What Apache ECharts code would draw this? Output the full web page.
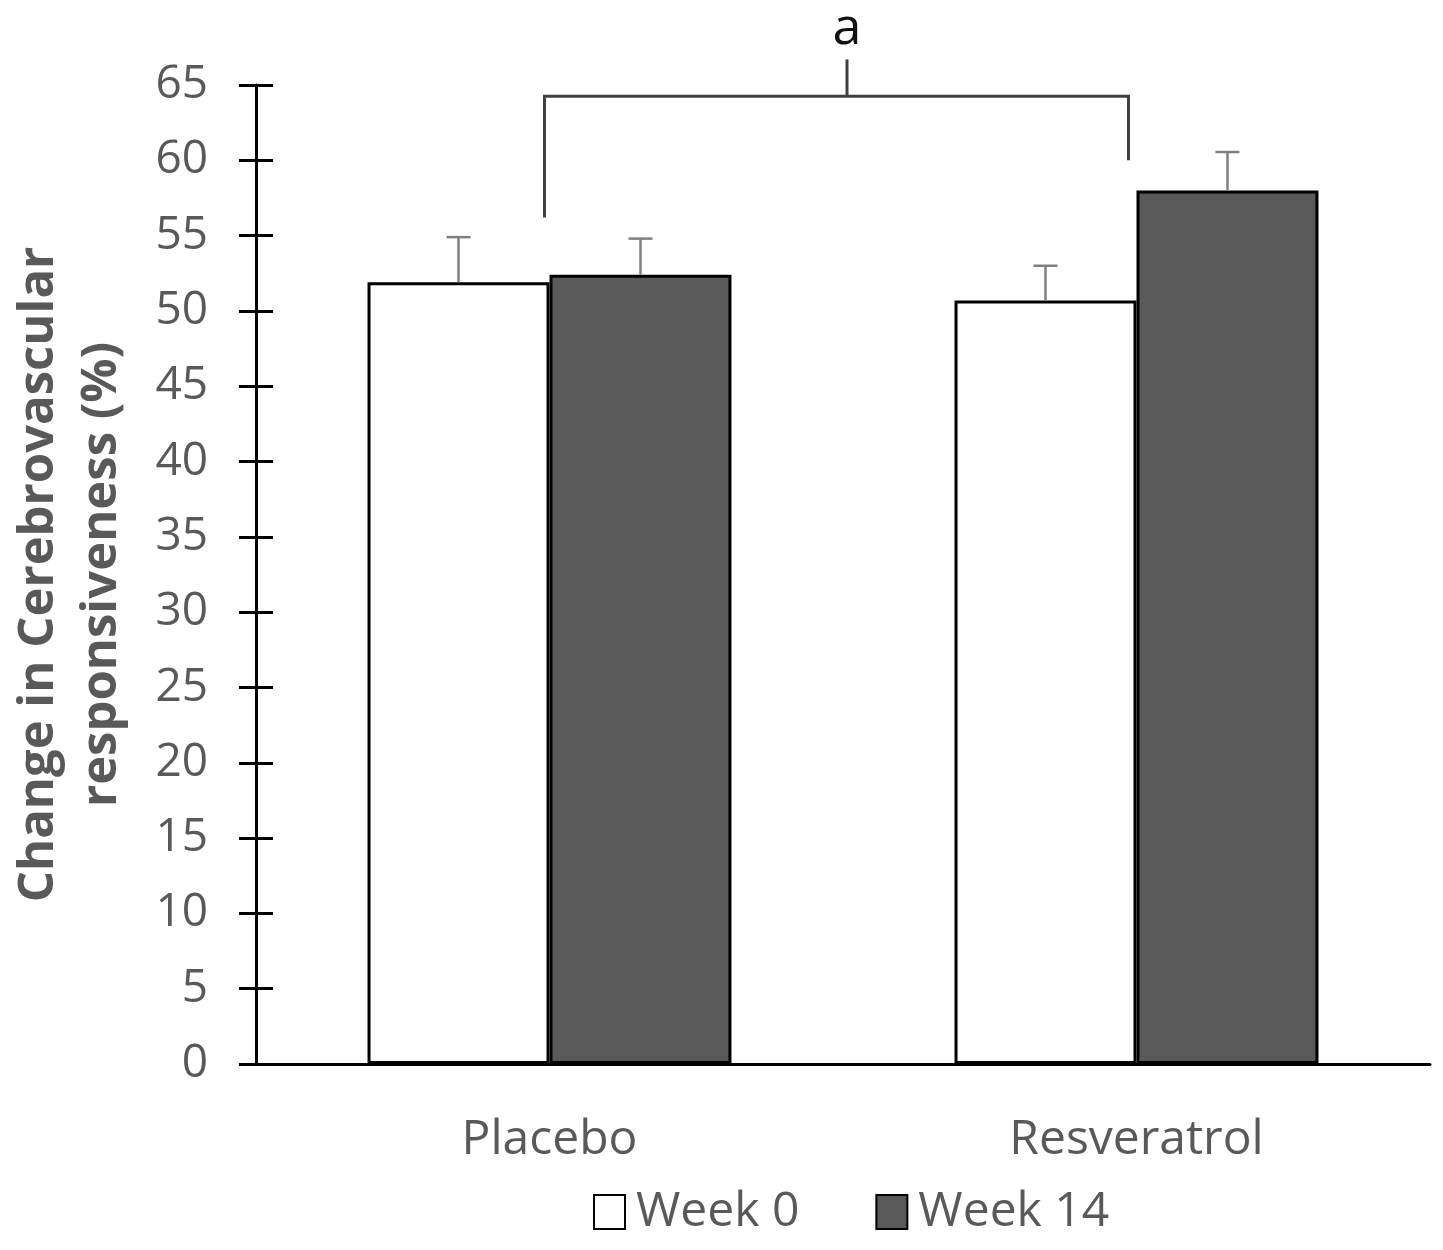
<!DOCTYPE html>
<html><head><meta charset="utf-8">
<script src="https://cdn.jsdelivr.net/npm/echarts@6/dist/echarts.min.js"></script>
<style>html,body{margin:0;padding:0;background:#fff}#c{width:1443px;height:1250px}</style>
</head><body><div id="c"></div>
<script>
const categories = ['Placebo', 'Resveratrol'];
const seriesNames = ['Week 0', 'Week 14'];
const week0 = [51.9, 50.7];
const week14 = [52.4, 58.0];
const week0Upper = [54.9, 53.0];
const week14Upper = [54.8, 60.55];
// significance bracket values (y-axis units)
const bracketLeftBottom = 56.2;
const bracketTop = 64.25;
const bracketRightBottom = 60.0;
const bracketTickTop = 66.7;
const bracketLabelValue = 68.7;
const bracketLabel = 'a';
const yTicks = {min: 0, max: 65, interval: 5};

const FONT = '"Open Sans", "Noto Sans", sans-serif';
const GREY = '#595959';
const BAR_W = 0.31;

const chart = echarts.init(document.getElementById('c'));

function errRender(seriesIdx) {
  return function (params, api) {
    const ci = api.value(0);
    const base = api.coord([ci, api.value(1)]);
    const top = api.coord([ci, api.value(2)]);
    const band = api.size([1, 0])[0];
    const bw = band * BAR_W;
    const x = base[0] + (seriesIdx === 0 ? -bw / 2 : bw / 2);
    const style = {stroke: '#808080', lineWidth: 2.5};
    return {type: 'group', children: [
      {type: 'line', shape: {x1: x, y1: base[1], x2: x, y2: top[1]}, style},
      {type: 'line', shape: {x1: x - 12, y1: top[1], x2: x + 12, y2: top[1]}, style}
    ]};
  };
}

const option = {
  animation: false,
  backgroundColor: '#fff',
  grid: {left: 256, right: 13, top: 85, bottom: 186, containLabel: false, outerBoundsMode: 'none'},
  legend: {
    data: seriesNames,
    left: 588, top: 1183,
    icon: 'rect',
    itemWidth: 31, itemHeight: 34, itemGap: 76,
    textStyle: {fontFamily: FONT, fontSize: 48, color: GREY, padding: [0, 0, 0, 6]}
  },
  xAxis: {
    type: 'category', data: categories,
    axisLine: {lineStyle: {color: '#000', width: 3}},
    axisTick: {show: false},
    axisLabel: {fontFamily: FONT, fontSize: 48, color: GREY, margin: 52}
  },
  yAxis: [{
    type: 'value', min: yTicks.min, max: yTicks.max, interval: yTicks.interval,
    axisLine: {show: true, lineStyle: {color: '#000', width: 3}},
    axisTick: {show: true, length: 17, lineStyle: {color: '#000', width: 3}},
    splitLine: {show: false},
    axisLabel: {fontFamily: FONT, fontSize: 46, color: GREY, margin: 48},
    name: 'Change in Cerebrovascular\nresponsiveness (%)',
    nameLocation: 'middle', nameGap: 122, nameRotate: 90,
    nameTextStyle: {fontFamily: FONT, fontSize: 49, fontWeight: 'bold', color: GREY, lineHeight: 63}
  }, {
    type: 'value', min: yTicks.min, max: yTicks.max, interval: yTicks.interval,
    position: 'left',
    axisLine: {show: false},
    axisTick: {show: true, inside: true, length: 17, lineStyle: {color: '#000', width: 3}},
    splitLine: {show: false},
    axisLabel: {show: false}
  }],
  series: [
    {name: seriesNames[0], type: 'bar', data: week0, barWidth: (BAR_W * 100) + '%', barGap: '0%',
      itemStyle: {color: '#ffffff', borderColor: '#000', borderWidth: 3}, z: 2},
    {name: seriesNames[1], type: 'bar', data: week14, barWidth: (BAR_W * 100) + '%', barGap: '0%',
      itemStyle: {color: '#595959', borderColor: '#000', borderWidth: 3}, z: 2},
    {type: 'custom', renderItem: errRender(0), z: 3, silent: true,
      data: categories.map((c, i) => [i, week0[i], week0Upper[i]])},
    {type: 'custom', renderItem: errRender(1), z: 3, silent: true,
      data: categories.map((c, i) => [i, week14[i], week14Upper[i]])},
    {type: 'custom', z: 4, silent: true, clip: false,
      data: [[0, 1, bracketLeftBottom, bracketTop, bracketRightBottom, bracketTickTop, bracketLabelValue]],
      renderItem: function (params, api) {
        const l = api.coord([api.value(0), api.value(2)]);
        const r = api.coord([api.value(1), api.value(4)]);
        const t = api.coord([api.value(0), api.value(3)]);
        const tick = api.coord([api.value(0), api.value(5)]);
        const lab = api.coord([api.value(0), api.value(6)]);
        const lx = l[0] - 5, rx = r[0] - 8;
        const mx = (l[0] + r[0]) / 2 + 4;
        const style = {stroke: '#404040', lineWidth: 3, fill: null};
        return {type: 'group', children: [
          {type: 'polyline', shape: {points: [[lx, l[1]], [lx, t[1]], [rx, t[1]], [rx, r[1]]]}, style},
          {type: 'line', shape: {x1: mx, y1: t[1], x2: mx, y2: tick[1]}, style},
          {type: 'text', style: {text: bracketLabel, x: mx, y: lab[1], align: 'center', verticalAlign: 'middle',
            fontFamily: FONT, fontSize: 52, fill: '#111'}}
        ]};
      }}
  ]
};
chart.setOption(option);
</script></body></html>
